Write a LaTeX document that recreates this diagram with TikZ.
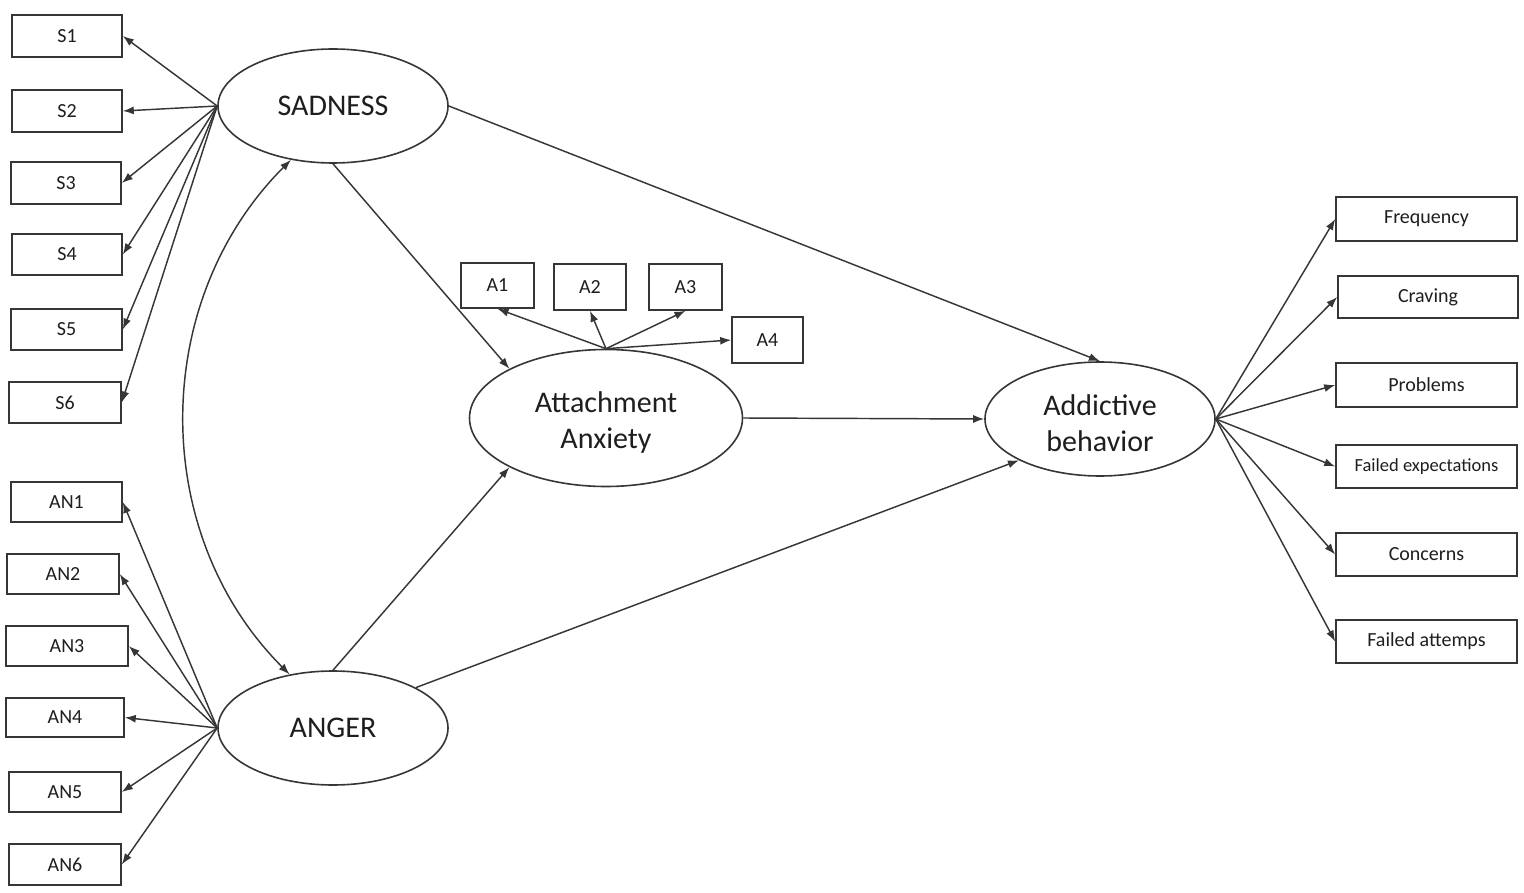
\documentclass[tikz,border=0pt]{standalone}
\usepackage{fontspec}
\setmainfont{Carlito}
\usetikzlibrary{shapes.geometric,arrows.meta}
\definecolor{linec}{HTML}{363636}
\definecolor{textc}{HTML}{1E1E1E}
\newcommand{\upstrut}{\rule{0pt}{29pt}}
\begin{document}
\begin{tikzpicture}[x=1pt,y=-1pt,
  lat/.style={ellipse,draw=linec,line width=1.6pt,inner sep=0pt,text=textc,
    font=\fontsize{30}{36}\selectfont,align=center},
  obs/.style={rectangle,draw=linec,line width=1.6pt,inner sep=0pt,text=textc,
    font=\fontsize{20}{24}\selectfont},
  tip/.style={-{Latex[length=11pt,width=8pt]}},
  arr/.style={draw=linec,line width=1.45pt,tip},
  cov/.style={draw=linec,line width=1.45pt,{Latex[length=11pt,width=8pt]}-{Latex[length=11pt,width=8pt]}},
]
\fill[white] (0,0) rectangle (1524,893);
\useasboundingbox (0,0) rectangle (1524,893);

% latent variables
\node[lat,minimum width=230pt,minimum height=114pt] (sad) at (333,106) {SADNESS};
\node[lat,minimum width=230pt,minimum height=114pt] (ang) at (333,728) {ANGER};
\node[lat,minimum width=273pt,minimum height=137pt] (att) at (606,418) {\upstrut Attachment\\Anxiety};
\node[lat,minimum width=230pt,minimum height=114pt] (add) at (1100,419) {\upstrut Addictive\\behavior};

% sadness indicators
\node[obs,minimum width=110pt,minimum height=42pt] (s1) at (67,36) {S1};
\node[obs,minimum width=110pt,minimum height=42pt] (s2) at (67,111) {S2};
\node[obs,minimum width=110pt,minimum height=42pt] (s3) at (66,183) {S3};
\node[obs,minimum width=110pt,minimum height=41pt] (s4) at (67,254.5) {S4};
\node[obs,minimum width=111pt,minimum height=41pt] (s5) at (66.5,329.5) {S5};
\node[obs,minimum width=112pt,minimum height=41pt] (s6) at (65,402.5) {S6};

% anger indicators
\node[obs,minimum width=111pt,minimum height=40pt] (an1) at (66.5,502) {AN1};
\node[obs,minimum width=112pt,minimum height=40pt] (an2) at (63,574) {AN2};
\node[obs,minimum width=122pt,minimum height=40pt] (an3) at (67,646) {AN3};
\node[obs,minimum width=118pt,minimum height=39pt] (an4) at (65,717.5) {AN4};
\node[obs,minimum width=112pt,minimum height=40pt] (an5) at (65,792) {AN5};
\node[obs,minimum width=112pt,minimum height=41pt] (an6) at (65,864.5) {AN6};

% attachment indicators
\node[obs,minimum width=73pt,minimum height=45pt] (a1) at (497.5,285.5) {A1};
\node[obs,minimum width=72pt,minimum height=46pt] (a2) at (590,287) {A2};
\node[obs,minimum width=73pt,minimum height=46pt] (a3) at (685.5,287) {A3};
\node[obs,minimum width=71pt,minimum height=46pt] (a4) at (767.5,340) {A4};

% addiction indicators
\node[obs,minimum width=181pt,minimum height=44pt] (b1) at (1426.5,219) {Frequency};
\node[obs,minimum width=180pt,minimum height=42pt] (b2) at (1428,297) {Craving};
\node[obs,minimum width=181pt,minimum height=44pt] (b3) at (1426.5,385) {Problems};
\node[obs,minimum width=181pt,minimum height=43pt,font=\fontsize{18.5}{22}\selectfont] (b4) at (1426.5,466.5) {Failed expectations};
\node[obs,minimum width=181pt,minimum height=43pt] (b5) at (1426.5,554.5) {Concerns};
\node[obs,minimum width=181pt,minimum height=43pt] (b6) at (1426.5,641.5) {Failed attemps};

% loadings
\foreach \n in {s1,s2,s3,s4,s5,s6} \draw[arr] (sad.west) -- (\n.east);
\foreach \n in {an1,an2,an3,an4,an5,an6} \draw[arr] (ang.west) -- (\n.east);
\foreach \n in {a1,a2,a3} \draw[arr] (att.north) -- (\n.south);
\draw[arr] (att.north) -- (a4.west);
\foreach \n in {b1,b2,b3,b4,b5,b6} \draw[arr] (add.east) -- (\n.west);

% structural paths
\draw[arr] (sad.south) -- (att.153);
\draw[arr] (ang.north) -- (att.207);
\draw[arr] (sad.east) -- (add.north);
\draw[arr] (att.east) -- (add.west);
\draw[arr] (ang.26) -- (add.207);

% covariance
\draw[cov] (sad.232) .. controls +(-141,141) and +(-141,-141) .. (ang.129);
\end{tikzpicture}
\end{document}
